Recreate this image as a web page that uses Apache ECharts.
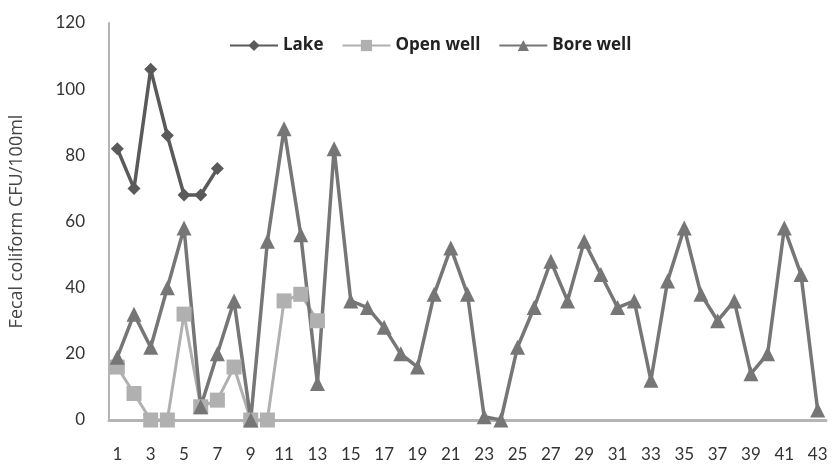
<!DOCTYPE html>
<html>
<head>
<meta charset="utf-8">
<script src="https://cdn.jsdelivr.net/npm/echarts@6/dist/echarts.min.js"></script>
<style>html,body{margin:0;padding:0;background:#fff}#c{width:832px;height:465px}</style>
</head>
<body>
<div id="c"></div>
<script>
var categories = [];
for (var i = 1; i <= 43; i++) categories.push(String(i));
var lake = [82, 70, 106, 86, 68, 68, 76];
var openWell = [16, 8, 0, 0, 32, 4, 6, 16, 0, 0, 36, 38, 30];
var boreWell = [19, 32, 22, 40, 58, 4, 20, 36, 0, 54, 88, 56, 11, 82, 36, 34, 28, 20, 16, 38, 52, 38, 1, 0, 22, 34, 48, 36, 54, 44, 34, 36, 12, 42, 58, 38, 30, 36, 14, 20, 58, 44, 3];
var yTicks = [0, 20, 40, 60, 80, 100, 120];

var chart = echarts.init(document.getElementById('c'));
var font = 'Lato, "Open Sans", sans-serif';
var font2 = '"Open Sans", Lato, sans-serif';
chart.setOption({
  animation: false,
  backgroundColor: '#fff',
  grid: { left: 109, right: 6, top: 23, bottom: 45 },
  legend: {
    top: 32, left: 224,
    itemWidth: 48, itemHeight: 14, itemGap: 18,
    textStyle: { fontFamily: font2, fontSize: 17, fontWeight: 'bold', color: '#222' },
    data: ['Lake', 'Open well', 'Bore well']
  },
  xAxis: {
    type: 'category',
    data: categories,
    boundaryGap: true,
    axisLine: { lineStyle: { color: '#b4b4b4', width: 3 } },
    axisTick: { show: false },
    axisLabel: { interval: 1, margin: 26, fontFamily: font, fontSize: 17, color: '#333' }
  },
  yAxis: {
    type: 'value',
    min: yTicks[0], max: yTicks[yTicks.length - 1], interval: 20,
    name: 'Fecal coliform CFU/100ml',
    nameLocation: 'middle', nameGap: 83, nameRotate: 90,
    nameTextStyle: { fontFamily: font2, fontSize: 18, color: '#444' },
    axisLine: { show: true, lineStyle: { color: '#b4b4b4', width: 2 } },
    axisTick: { show: false },
    splitLine: { show: false },
    axisLabel: { margin: 24, fontFamily: font, fontSize: 17, color: '#333' }
  },
  series: [
    {
      name: 'Lake', type: 'line', data: lake,
      symbol: 'diamond', symbolSize: 13, showAllSymbol: true,
      lineStyle: { color: '#5a5a5a', width: 3.5 },
      itemStyle: { color: '#5a5a5a' }
    },
    {
      name: 'Open well', type: 'line', data: openWell,
      symbol: 'rect', symbolSize: 15, showAllSymbol: true,
      lineStyle: { color: '#b0b0b0', width: 3 },
      itemStyle: { color: '#b0b0b0' }
    },
    {
      name: 'Bore well', type: 'line', data: boreWell,
      symbol: 'triangle', symbolSize: 15, showAllSymbol: true,
      lineStyle: { color: '#767676', width: 3.5 },
      itemStyle: { color: '#767676' }
    }
  ]
});
</script>
</body>
</html>
